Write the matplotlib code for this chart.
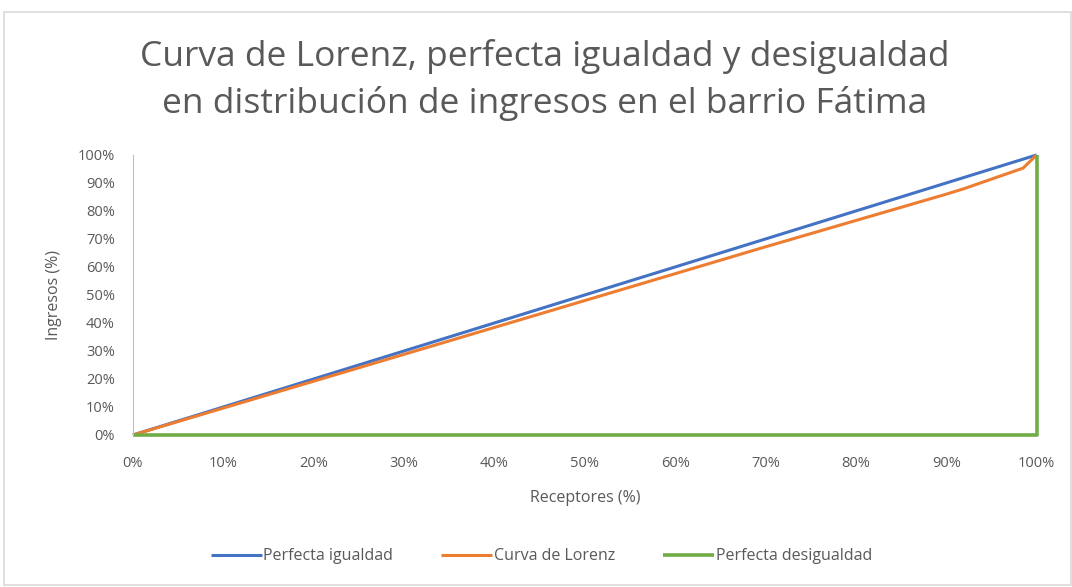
import matplotlib
matplotlib.use("Agg")
import matplotlib.pyplot as plt
from matplotlib.ticker import PercentFormatter
from matplotlib.patches import Rectangle

plt.rcParams['font.family'] = ['Open Sans', 'DejaVu Sans']

# data (percent)
x_equal = [0, 100]
y_equal = [0, 100]
x_lorenz = [0, 10, 20, 30, 40, 50, 60, 70, 80, 90, 92, 98.5, 100]
y_lorenz = [0, 9.6, 19.2, 28.8, 38.4, 48.0, 57.6, 67.2, 76.6, 86.0, 88.0, 95.3, 100]
x_unequal = [0, 100, 100]
y_unequal = [0, 0, 100]

gray = '#595959'

fig = plt.figure(figsize=(10.72, 5.87), dpi=100)
fig.patches.append(Rectangle((0.004, 0.004), 0.995, 0.976, transform=fig.transFigure,
                             fill=False, edgecolor='#D9D9D9', lw=1.2))
ax = fig.add_axes([0.124, 0.259, 0.843, 0.477])

ax.plot(x_equal, y_equal, color='#4472C4', lw=2.2, label='Perfecta igualdad',
        solid_capstyle='butt', clip_on=False)
ax.plot(x_lorenz, y_lorenz, color='#ED7D31', lw=2.2, label='Curva de Lorenz',
        solid_capstyle='butt', clip_on=False)
ax.plot(x_unequal, y_unequal, color='#70AD47', lw=2.6, label='Perfecta desigualdad',
        solid_capstyle='butt', clip_on=False)

ax.set_xlim(0, 100)
ax.set_ylim(0, 100)
ax.set_xticks(range(0, 101, 10))
ax.set_yticks(range(0, 101, 10))
ax.xaxis.set_major_formatter(PercentFormatter(decimals=0))
ax.yaxis.set_major_formatter(PercentFormatter(decimals=0))
ax.tick_params(length=0, labelsize=10.5, colors=gray)
ax.tick_params(axis='x', pad=15)
ax.tick_params(axis='y', pad=13)

for s in ['top', 'right', 'bottom']:
    ax.spines[s].set_visible(False)
ax.spines['left'].set_color('#BFBFBF')

ax.set_xlabel('Receptores (%)', fontsize=11.5, color=gray, labelpad=14)
ax.set_ylabel('Ingresos (%)', fontsize=11.5, color=gray, labelpad=11)

fig.text(0.508, 0.863, 'Curva de Lorenz, perfecta igualdad y desigualdad\n'
         'en distribución de ingresos en el barrio Fátima',
         ha='center', va='center', fontsize=25.5, color=gray, linespacing=1.45)

fig.legend(loc='center', bbox_to_anchor=(0.505, 0.052), ncol=3, frameon=False,
           fontsize=11.5, labelcolor=gray, handlelength=3.2, handletextpad=0.1,
           columnspacing=3.0)

fig.savefig('out.png', dpi=100)
